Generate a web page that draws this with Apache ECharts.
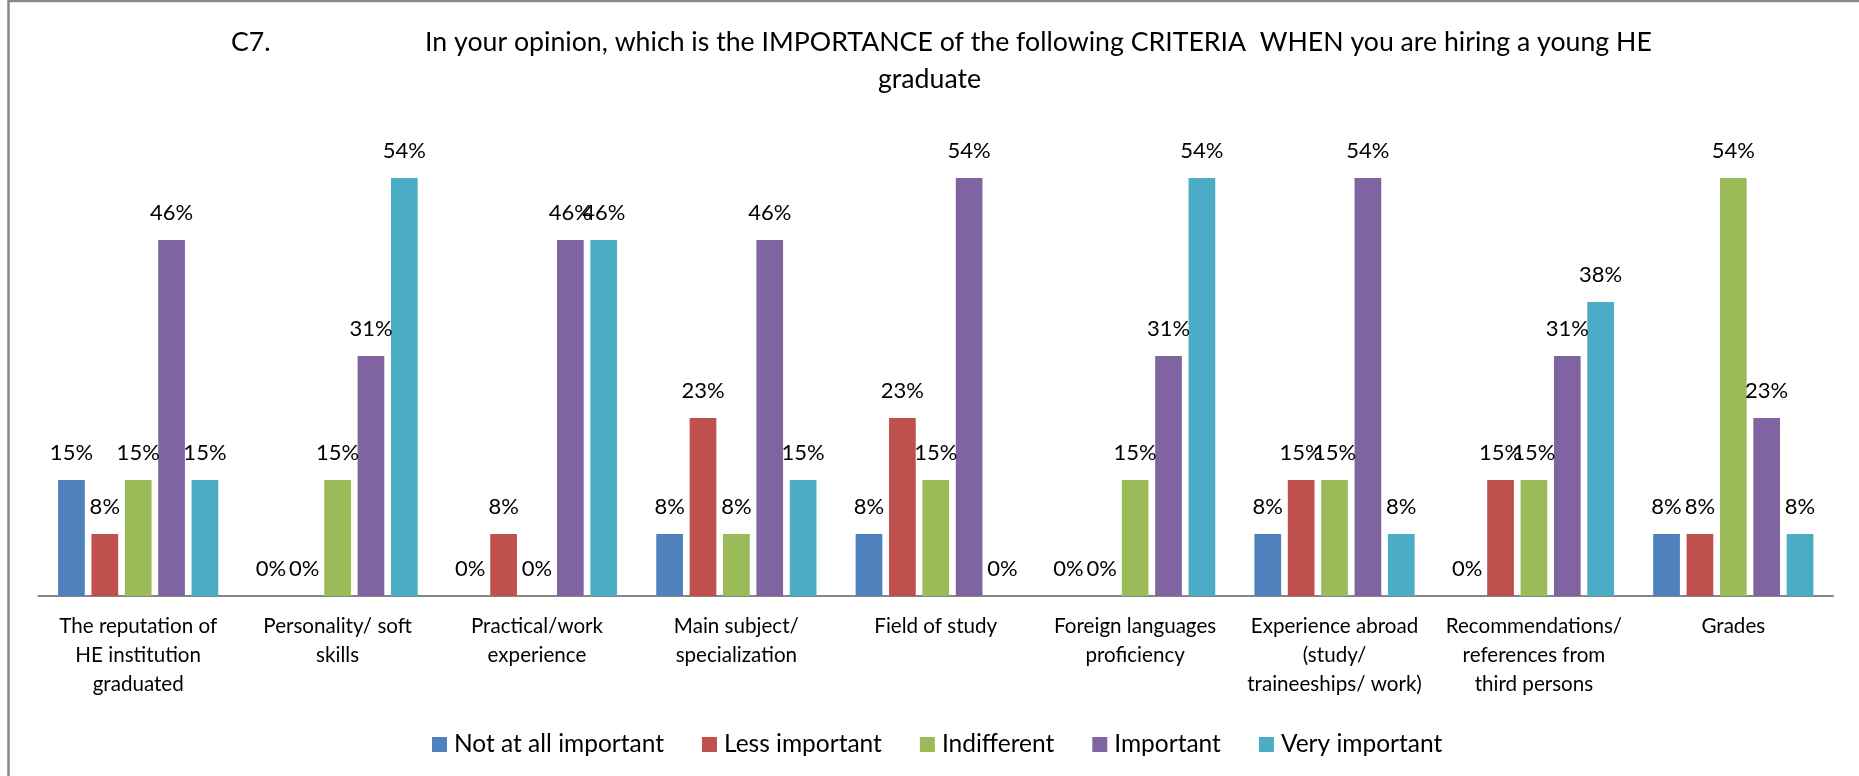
<!DOCTYPE html>
<html>
<head>
<meta charset="utf-8">
<script src="https://cdn.jsdelivr.net/npm/echarts@6.0.0/dist/echarts.min.js"></script>
<style>
  html, body { margin: 0; padding: 0; background: #fff; }
  #chart { width: 1859px; height: 776px; }
</style>
</head>
<body>
<div id="chart"></div>
<script>
// Criteria (tick labels, wrapped as printed under the axis)
const categories = [
  'The reputation of\nHE institution\ngraduated',
  'Personality/ soft\nskills',
  'Practical/work\nexperience',
  'Main subject/\nspecialization',
  'Field of study',
  'Foreign languages\nproficiency',
  'Experience abroad\n(study/\ntraineeships/ work)',
  'Recommendations/\nreferences from\nthird persons',
  'Grades'
];

// Share of respondents (%) per importance level, one value per criterion
const notAtAllImportant = [15, 0, 0, 8, 8, 0, 8, 0, 8];
const lessImportant     = [8, 0, 8, 23, 23, 0, 15, 15, 8];
const indifferent       = [15, 15, 0, 8, 15, 15, 15, 15, 54];
const important         = [46, 31, 46, 46, 54, 31, 54, 31, 23];
const veryImportant     = [15, 54, 46, 15, 0, 54, 8, 38, 8];

const seriesNames = ['Not at all important', 'Less important', 'Indifferent', 'Important', 'Very important'];
const seriesValues = [notAtAllImportant, lessImportant, indifferent, important, veryImportant];
const palette = ['#4F81BD', '#C0504D', '#9BBB59', '#8064A2', '#4BACC6'];

const FONT = 'Lato';
const titleStyle = { fontFamily: FONT, fontSize: 26.7, fontWeight: 'normal', color: '#000' };

const chart = echarts.init(document.getElementById('chart'), null, { renderer: 'canvas' });

chart.setOption({
  backgroundColor: '#ffffff',
  animation: false,
  color: palette,
  title: [
    { text: 'C7.', left: 226, top: 24, textStyle: titleStyle },
    { text: 'In your opinion, which is the IMPORTANCE of the following CRITERIA  WHEN you are hiring a young HE',
      left: 420, top: 24, textStyle: titleStyle },
    { text: 'graduate', left: 'center', top: 61, textStyle: titleStyle }
  ],
  legend: {
    data: seriesNames,
    left: 427,
    top: 727,
    icon: 'rect',
    itemWidth: 15,
    itemHeight: 15,
    itemGap: 38,
    textStyle: { fontFamily: FONT, fontSize: 24.5, color: '#000', padding: [0, 0, 0, 2] }
  },
  grid: { left: 38.5, right: 26, top: 131.6, bottom: 180, containLabel: false },
  xAxis: {
    type: 'category',
    data: categories,
    axisLine: { show: true, lineStyle: { color: '#868686', width: 2 } },
    axisTick: { show: false },
    axisLabel: {
      interval: 0,
      margin: 16,
      fontFamily: FONT,
      fontSize: 20.6,
      lineHeight: 29,
      color: '#000',
      align: 'center'
    }
  },
  yAxis: {
    type: 'value',
    min: 0,
    max: 60,
    show: false,
    splitLine: { show: false }
  },
  series: seriesNames.map((name, i) => ({
    name,
    type: 'bar',
    data: seriesValues[i],
    barWidth: 26.7,
    barGap: '25%',
    itemStyle: { color: palette[i] },
    label: {
      show: true,
      position: 'top',
      distance: 16,
      formatter: '{c}%',
      fontFamily: FONT,
      fontSize: 22,
      color: '#000'
    }
  })),
  graphic: [
    {
      type: 'rect',
      silent: true,
      z: 100,
      shape: { x: 8.5, y: 1, width: 2000, height: 2000 },
      style: { fill: 'none', stroke: '#898989', lineWidth: 2.5 }
    }
  ]
});
</script>
</body>
</html>
